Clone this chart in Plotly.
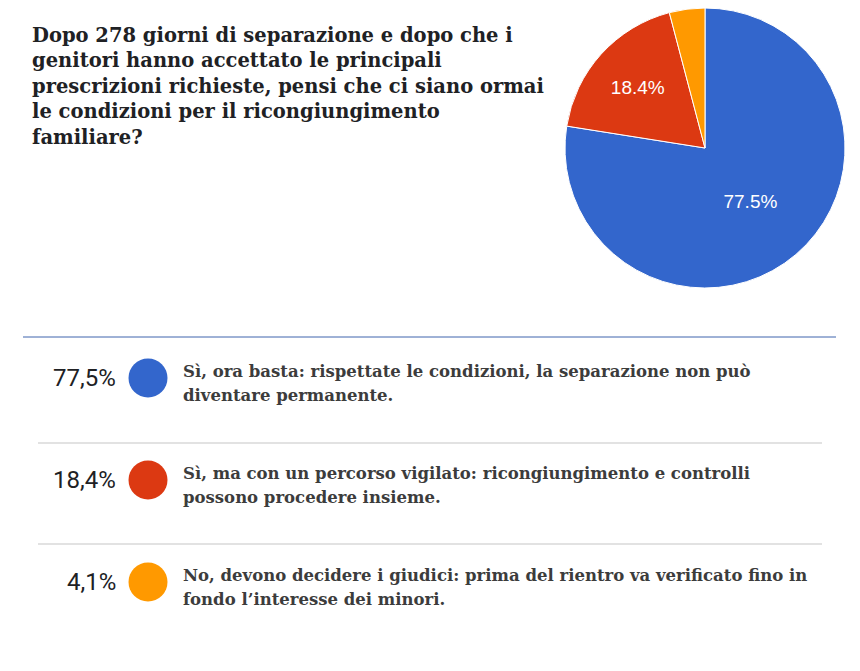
import plotly.graph_objects as go

# Dati del sondaggio
domanda = [
    "Dopo 278 giorni di separazione e dopo che i",
    "genitori hanno accettato le principali",
    "prescrizioni richieste, pensi che ci siano ormai",
    "le condizioni per il ricongiungimento",
    "familiare?",
]
risposte = [
    "Sì, ora basta: rispettate le condizioni, la separazione non può<br>diventare permanente.",
    "Sì, ma con un percorso vigilato: ricongiungimento e controlli<br>possono procedere insieme.",
    "No, devono decidere i giudici: prima del rientro va verificato fino in<br>fondo l’interesse dei minori.",
]
percentuali = [77.5, 18.4, 4.1]
etichette_pct = ["77,5%", "18,4%", "4,1%"]
colori = ["#3366cc", "#dc3912", "#ff9900"]

W, H = 860, 671
OFF = 8  # margine del body della pagina

fig = go.Figure()

# Torta in alto a destra
fig.add_trace(go.Pie(
    values=percentuali,
    labels=[r.replace("<br>", " ") for r in risposte],
    marker=dict(colors=colori, line=dict(color="white", width=1)),
    sort=False,
    direction="clockwise",
    rotation=0,
    texttemplate=["%{percent:.1%}", "%{percent:.1%}", ""],
    textposition="inside",
    insidetextorientation="horizontal",
    textfont=dict(family="Liberation Sans", size=19, color="white"),
    hoverinfo="label+percent",
    domain=dict(x=[(564 - OFF) / W, (846 - OFF) / W], y=[1 - (288 - OFF) / H, 1]),
    showlegend=False,
))

# Legenda a righe: pallini su un asse nascosto in pixel
riga_y = [378 + i * 102 for i in range(len(percentuali))]
fig.add_trace(go.Scatter(
    x=[148] * len(percentuali),
    y=riga_y,
    mode="markers",
    marker=dict(size=39, color=colori),
    hoverinfo="skip",
    showlegend=False,
))

annotazioni = []
for k, riga in enumerate(domanda):
    annotazioni.append(dict(
        x=30, y=35 + k * 25.5, xref="x", yref="y", xanchor="left", yanchor="middle",
        text="<b>" + riga + "</b>", showarrow=False, align="left",
        font=dict(family="DejaVu Serif", size=19.5, color="#202124"),
    ))
for i, y in enumerate(riga_y):
    annotazioni.append(dict(
        x=118, y=y, xref="x", yref="y", xanchor="right", yanchor="middle",
        text=etichette_pct[i], showarrow=False,
        font=dict(family="Roboto", size=24, color="#202124"),
    ))
    for k, riga in enumerate(risposte[i].split("<br>")):
        annotazioni.append(dict(
            x=181, y=y - 7 + k * 24, xref="x", yref="y", xanchor="left", yanchor="middle",
            text="<b>" + riga + "</b>", showarrow=False, align="left",
            font=dict(family="DejaVu Serif", size=16.5, color="#3c3c3c"),
        ))

# Linee di separazione
linee = [dict(type="line", xref="x", yref="y", x0=23, x1=836, y0=337, y1=337,
              line=dict(color="#3f65ad", width=1))]
for y in [443, 544]:
    linee.append(dict(type="line", xref="x", yref="y", x0=38, x1=822, y0=y, y1=y,
                      line=dict(color="#e2e2e2", width=2)))

fig.update_layout(
    width=W, height=H,
    margin=dict(l=0, r=0, t=0, b=0),
    paper_bgcolor="white", plot_bgcolor="white",
    xaxis=dict(range=[OFF, W + OFF], visible=False, fixedrange=True, domain=[0, 1]),
    yaxis=dict(range=[H + OFF, OFF], visible=False, fixedrange=True, domain=[0, 1]),
    annotations=annotazioni,
    shapes=linee,
)

fig.write_html("out.html")
